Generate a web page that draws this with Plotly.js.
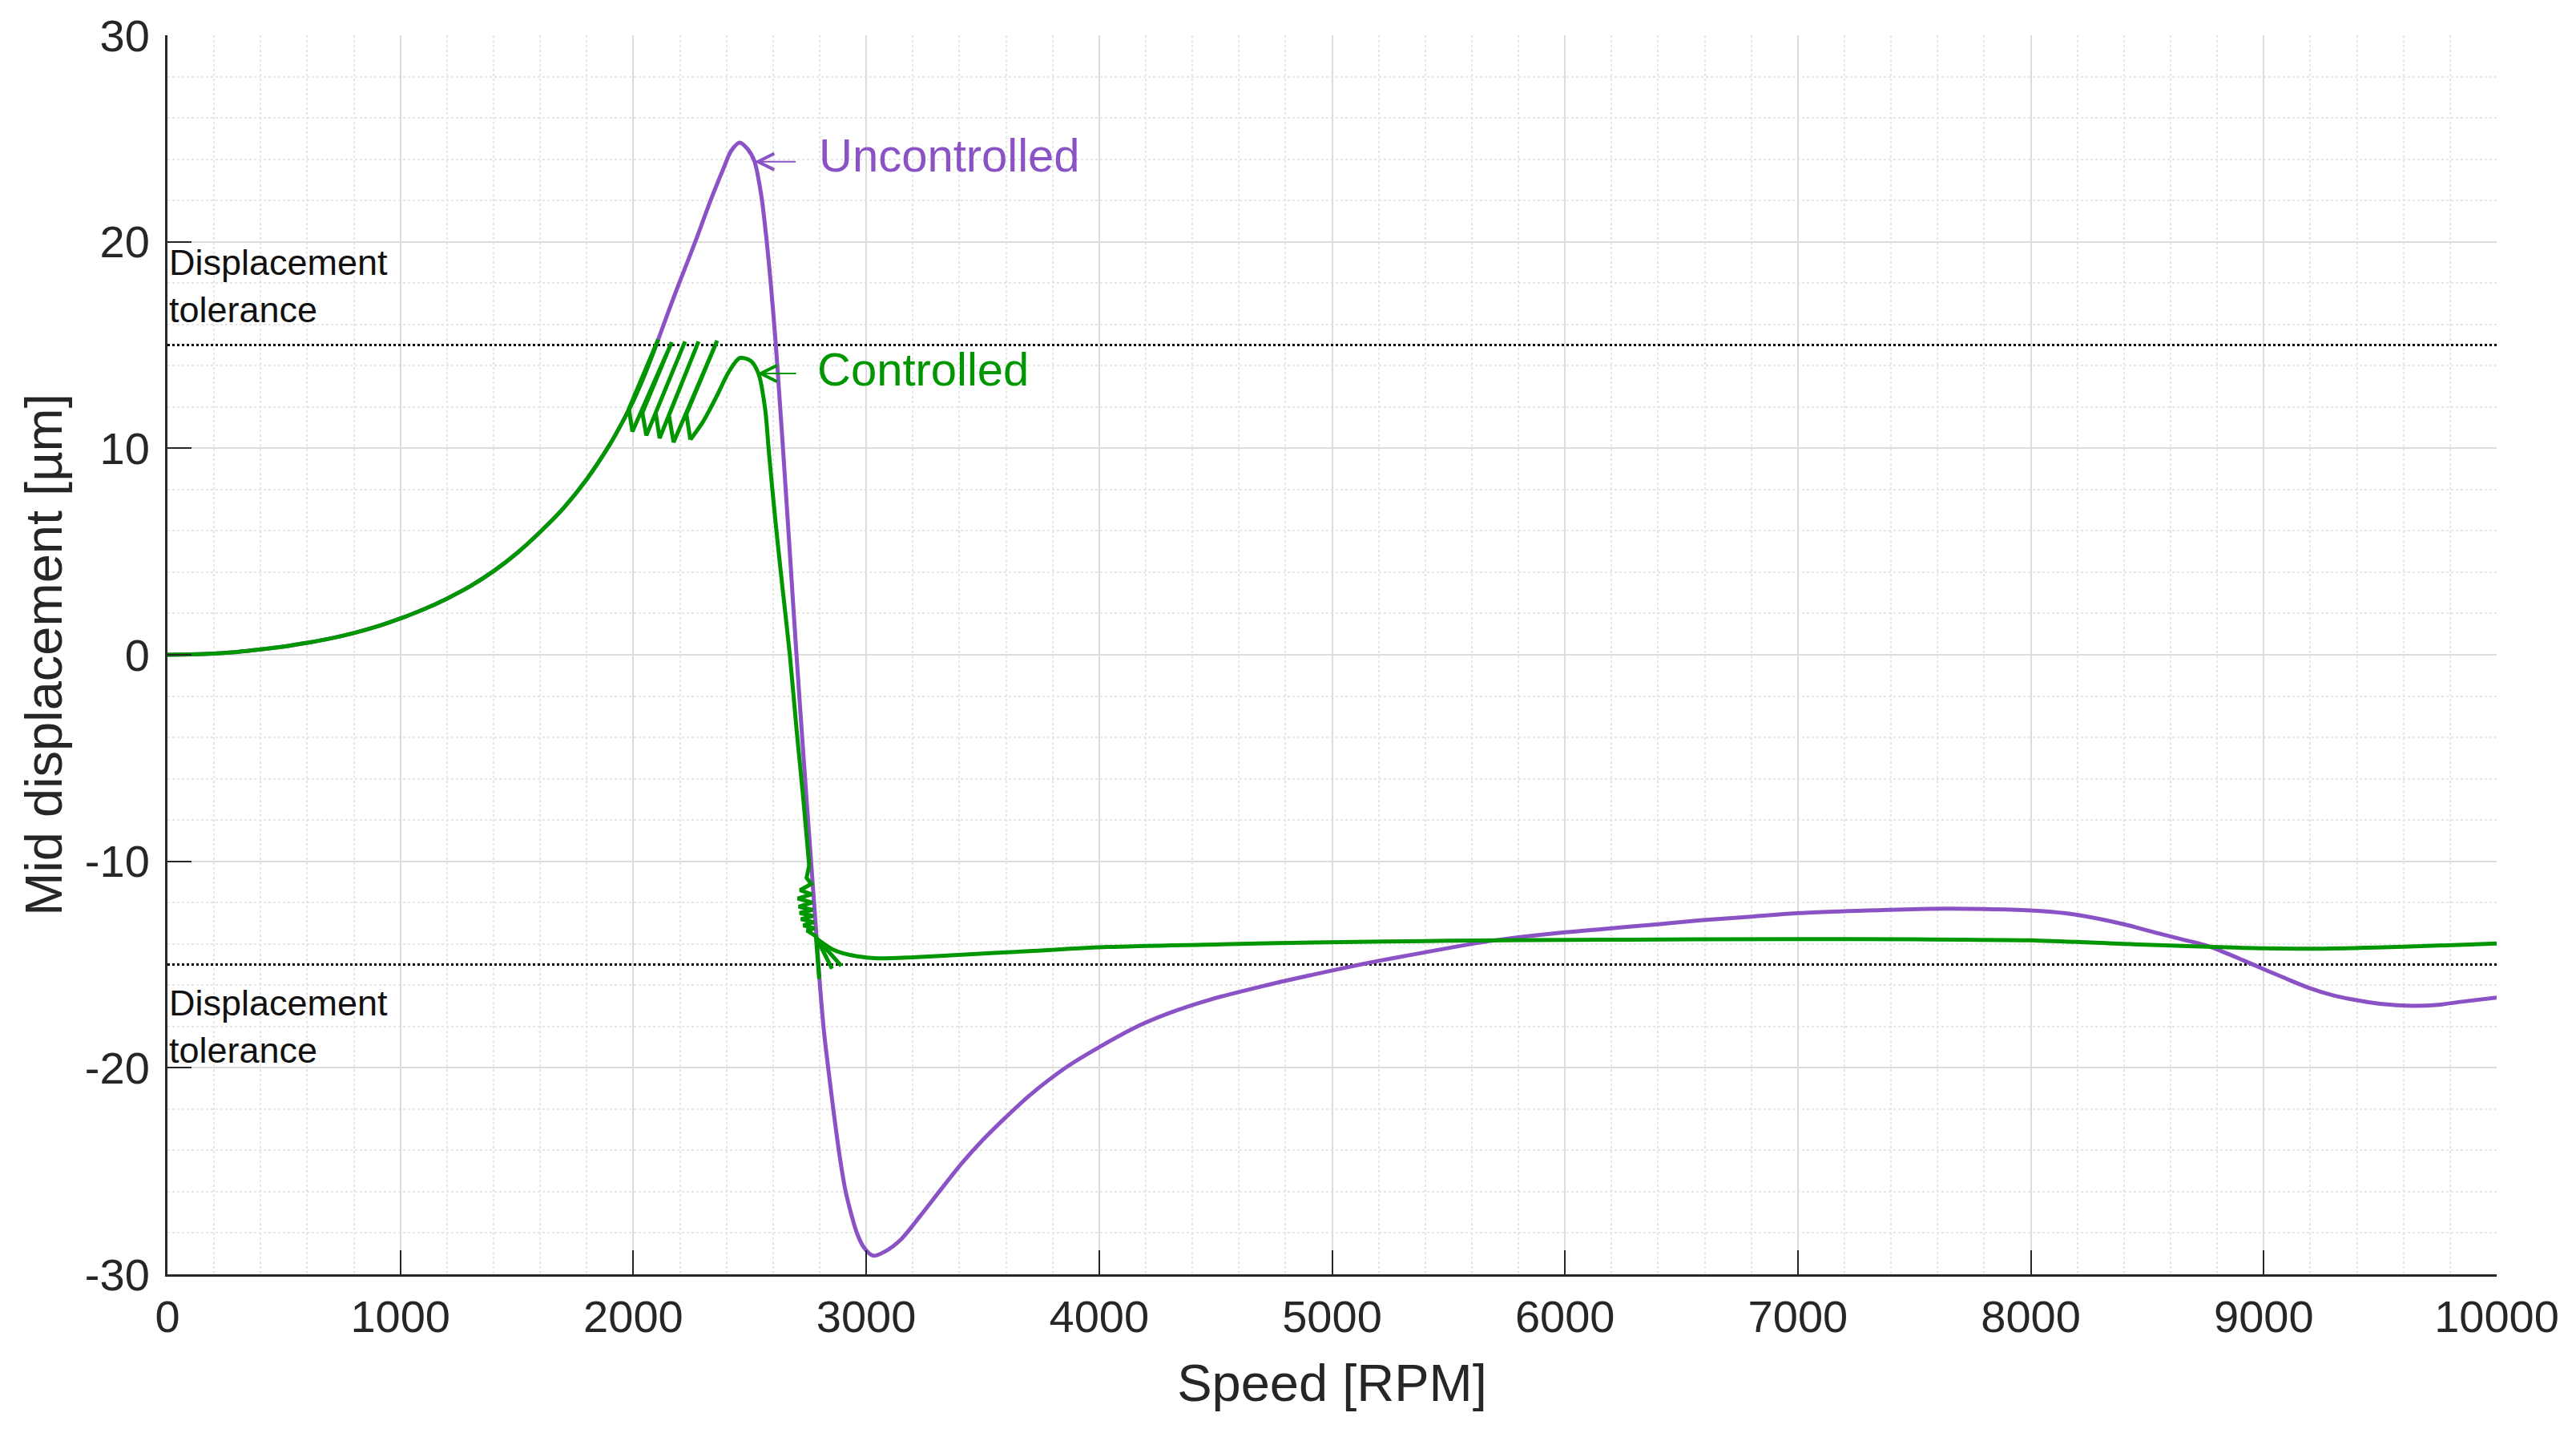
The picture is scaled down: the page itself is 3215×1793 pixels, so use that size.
<!DOCTYPE html>
<html>
<head>
<meta charset="utf-8">
<script src="https://cdn.plot.ly/plotly-3.0.1.min.js"></script>
<style>
  body { margin: 0; background: #fff; }
  #chart { width: 3215px; height: 1793px; }
</style>
</head>
<body>
<div id="chart"></div>
<script>
// shared run-up part (both curves identical up to the tolerance)
var rampSpeed = [0, 100, 200, 300, 400, 500, 600, 700, 800, 900, 1000, 1100, 1200, 1300, 1400, 1500, 1600, 1700, 1800, 1900, 1950, 2000, 2050, 2107];
var rampDisp  = [0, 0.015, 0.06, 0.14, 0.26, 0.4, 0.58, 0.79, 1.05, 1.37, 1.76, 2.2, 2.72, 3.32, 4.05, 4.92, 5.95, 7.1, 8.5, 10.2, 11.2, 12.3, 13.6, 15.27];

// uncontrolled, after the shared part
var uncSpeed = [2107, 2150, 2197, 2266, 2335, 2389, 2420, 2457, 2490, 2520, 2550,
  2573, 2590, 2612, 2628, 2645, 2670, 2700, 2735, 2767, 2785,
  2802, 2820, 2841, 2862, 2885, 2910, 2936, 2960, 2990, 3030,
  3080, 3150, 3230, 3320, 3412, 3500, 3599, 3700, 3862, 4000,
  4169, 4300, 4476, 4700, 4915, 5058, 5200, 5354, 5500, 5683,
  5900, 6161, 6400, 6582, 6800, 7003, 7300, 7565, 7800, 8000,
  8150, 8267, 8400, 8531, 8650, 8758, 8850, 8913, 9005, 9100,
  9199, 9300, 9371, 9500, 9636, 9750, 9850, 10000];
var uncDisp = [15.27, 16.6, 18.0, 20.0, 22.1, 23.6, 24.4, 24.8, 24.5, 23.9, 22.2,
  20.0, 18.0, 15.0, 12.4, 9.6, 5.3, 0.1, -5.6, -10.6, -13.4,
  -16.1, -18.4, -20.4, -22.3, -24.2, -25.9, -27.1, -28.0, -28.7, -29.1,
  -28.9, -28.3, -27.2, -25.9, -24.6, -23.5, -22.4, -21.35, -19.95, -19.0,
  -17.97, -17.35, -16.7, -16.05, -15.5, -15.15, -14.82, -14.5, -14.2, -13.85,
  -13.55, -13.28, -13.05, -12.86, -12.68, -12.51, -12.38, -12.3, -12.31, -12.38,
  -12.52, -12.73, -13.05, -13.44, -13.78, -14.09, -14.5, -14.8, -15.25, -15.7,
  -16.15, -16.5, -16.67, -16.9, -17.0, -16.95, -16.8, -16.6];

// controlled: limit cycles at the tolerance
var cycSpeed = [2107, 1981, 1996, 2165, 2039, 2056, 2222, 2096, 2113, 2280, 2153, 2173, 2360, 2228, 2245];
var cycDisp  = [15.27, 11.91, 10.81, 15.14, 11.72, 10.62, 15.17, 11.72, 10.49, 15.17, 11.59, 10.29, 15.21, 11.65, 10.42];
// controlled: last hump and crossing
var fallSpeed = [2245, 2300, 2354, 2411, 2457, 2503, 2538, 2566, 2583, 2610, 2640, 2672, 2700, 2730, 2755];
var fallDisp  = [10.42, 11.3, 12.43, 13.72, 14.37, 14.24, 13.6, 11.9, 9.7, 6.5, 3.3, 0, -3.5, -7, -10.2];
// controlled: ringing after the crossing
var ringSpeed = [2755, 2744, 2764, 2716, 2766, 2706, 2768, 2710, 2770, 2714, 2772, 2720, 2775, 2730, 2778, 2745, 2784,
  2798, 2786, 2853, 2789, 2893, 2793];
var ringDisp  = [-10.2, -10.8, -11.1, -11.4, -11.6, -11.8, -12.0, -12.2, -12.35, -12.5, -12.65, -12.8, -12.95, -13.1, -13.25, -13.35, -13.63,
  -15.7, -13.7, -15.2, -13.75, -15.06, -13.8];
// controlled: settled part
var tailSpeed = [2793, 2853, 2900, 2962, 3050, 3200, 3379, 3700, 4037, 4500, 4915, 5500, 6161, 7003, 7500, 8000, 8443, 8913, 9257, 9601, 10000];
var tailDisp  = [-13.8, -14.25, -14.45, -14.6, -14.7, -14.65, -14.54, -14.35, -14.15, -14.03, -13.93, -13.85, -13.8, -13.77, -13.78, -13.83, -14.02, -14.19, -14.23, -14.14, -13.98];

var tolerance = 15;
var speedRange = [0, 10000];
var yTicks = [-30, -20, -10, 0, 10, 20, 30];
var yTickText = ['-30', '-20', '-10', '0', '10', '20', '30'];

var purple = '#8a52c4';
var green = '#009600';
var font = 'Liberation Sans, Arial, sans-serif';
var lw = 5;

function curve(x, y, color, shape) {
  return { x: x, y: y, mode: 'lines', line: { color: color, width: lw, shape: shape, smoothing: 0.8 } };
}

var data = [
  { x: speedRange, y: [tolerance, tolerance], mode: 'lines', line: { color: '#000', width: 3, dash: 'dot' } },
  { x: speedRange, y: [-tolerance, -tolerance], mode: 'lines', line: { color: '#000', width: 3, dash: 'dot' } },
  curve(rampSpeed, rampDisp, purple, 'spline'),
  curve(uncSpeed, uncDisp, purple, 'spline'),
  curve(rampSpeed, rampDisp, green, 'spline'),
  curve(cycSpeed, cycDisp, green, 'linear'),
  curve(fallSpeed, fallDisp, green, 'spline'),
  curve(ringSpeed, ringDisp, green, 'linear'),
  curve(tailSpeed, tailDisp, green, 'spline')
];

var layout = {
  width: 3215, height: 1793,
  margin: { l: 209, r: 99, t: 44, b: 203 },
  paper_bgcolor: '#fff', plot_bgcolor: '#fff',
  showlegend: false,
  font: { family: font, color: '#262626', size: 56 },
  xaxis: {
    range: [0, 10000], dtick: 1000, tick0: 0, tickformat: 'd',
    showgrid: true, gridcolor: '#dcdcdc', gridwidth: 2,
    minor: { dtick: 200, showgrid: true, gridcolor: '#e6e6e6', gridwidth: 2, griddash: 'dot' },
    zeroline: false, showline: true, linecolor: '#262626', linewidth: 3,
    ticks: 'inside', ticklen: 30, tickwidth: 2, tickcolor: '#262626',
    ticklabelstandoff: 2,
    tickfont: { size: 56 },
    title: { text: 'Speed [RPM]', font: { size: 65 }, standoff: 30 }
  },
  yaxis: {
    range: [-30, 30], tickvals: yTicks, ticktext: yTickText,
    showgrid: true, gridcolor: '#dcdcdc', gridwidth: 2,
    minor: { dtick: 2, showgrid: true, gridcolor: '#e6e6e6', gridwidth: 2, griddash: 'dot' },
    zeroline: false, showline: true, linecolor: '#262626', linewidth: 3,
    ticks: 'inside', ticklen: 30, tickwidth: 2, tickcolor: '#262626',
    ticklabelstandoff: 8,
    tickfont: { size: 56 },
    title: { text: 'Mid displacement [µm]', font: { size: 65 }, standoff: 8 }
  },
  annotations: [
    { x: 0, y: 17.85, xref: 'x', yref: 'y', xanchor: 'left', yanchor: 'middle', align: 'left', showarrow: false,
      text: 'Displacement<br>tolerance', font: { size: 45, color: '#111' } },
    { x: 0, y: -18.0, xref: 'x', yref: 'y', xanchor: 'left', yanchor: 'middle', align: 'left', showarrow: false,
      text: 'Displacement<br>tolerance', font: { size: 45, color: '#111' } },
    { x: 2520, y: 23.88, xref: 'x', yref: 'y', text: '', showarrow: true, ax: 53, ay: 0,
      arrowhead: 5, arrowsize: 2, arrowwidth: 2, arrowcolor: purple },
    { x: 2790, y: 24.2, xref: 'x', yref: 'y', xanchor: 'left', yanchor: 'middle', showarrow: false,
      text: 'Uncontrolled', font: { size: 58, color: purple } },
    { x: 2532, y: 13.62, xref: 'x', yref: 'y', text: '', showarrow: true, ax: 50, ay: 0,
      arrowhead: 5, arrowsize: 2, arrowwidth: 2, arrowcolor: green },
    { x: 2784, y: 13.85, xref: 'x', yref: 'y', xanchor: 'left', yanchor: 'middle', showarrow: false,
      text: 'Controlled', font: { size: 58, color: green } }
  ]
};

Plotly.newPlot('chart', data, layout, { staticPlot: true });
</script>
</body>
</html>
